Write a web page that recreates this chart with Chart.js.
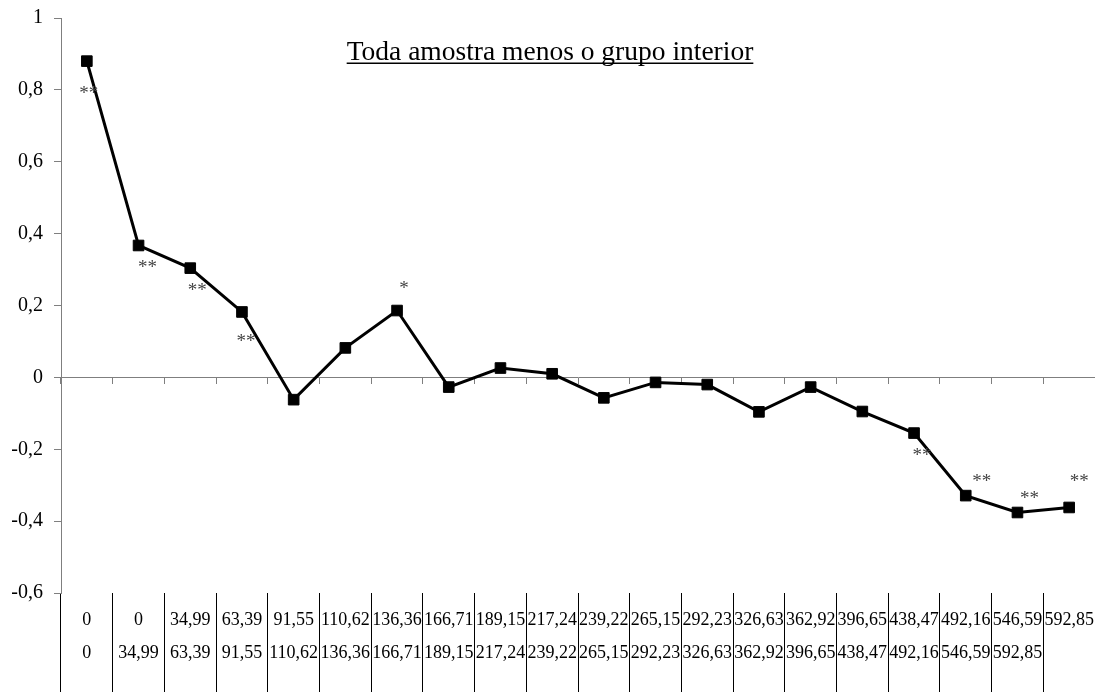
<!DOCTYPE html>
<html>
<head>
<meta charset="utf-8">
<script src="https://cdn.jsdelivr.net/npm/chart.js@4.4.1/dist/chart.umd.min.js"></script>
<style>
  html, body { margin: 0; padding: 0; background: #fff; }
  #wrap { width: 1095px; height: 692px; position: relative; }
</style>
</head>
<body>
<div id="wrap"><canvas id="chart"></canvas></div>
<script>
// Interval bounds shown under each point (two label rows)
const lowerBounds = ['0', '0', '34,99', '63,39', '91,55', '110,62', '136,36', '166,71', '189,15', '217,24',
                     '239,22', '265,15', '292,23', '326,63', '362,92', '396,65', '438,47', '492,16', '546,59', '592,85'];
const upperBounds = ['0', '34,99', '63,39', '91,55', '110,62', '136,36', '166,71', '189,15', '217,24', '239,22',
                     '265,15', '292,23', '326,63', '362,92', '396,65', '438,47', '492,16', '546,59', '592,85', ''];

// Coefficient per interval
const coefficients = [0.88, 0.367, 0.304, 0.182, -0.062, 0.082, 0.186, -0.027, 0.026, 0.010,
                      -0.057, -0.014, -0.020, -0.096, -0.027, -0.095, -0.155, -0.329, -0.376, -0.362];

// Significance markers per interval
const significance = ['**', '**', '**', '**', '', '', '*', '', '', '',
                      '', '', '', '', '', '', '**', '**', '**', '**'];

// Value axis range and step
const yMin = -0.6;
const yMax = 1;
const yStep = 0.2;

const chartTitle = 'Toda amostra menos o grupo interior';

const SERIF = "'Times New Roman', 'Liberation Serif', serif";
const AXIS_GRAY = '#7f7f7f';

const categoryLabels = lowerBounds.map((lo, i) => [lo, upperBounds[i]]);

// Where each significance marker sits relative to its point (dx, dy in px)
const markerPlacement = {
  0: [2, 28], 1: [9, 18], 2: [7, 18], 3: [4, 26], 6: [7, -26],
  16: [8, 18], 17: [16, -18], 18: [12, -18], 19: [10, -30]
};

const annotations = {
  id: 'annotations',
  afterDatasetsDraw(chart) {
    const ctx = chart.ctx;
    const meta = chart.getDatasetMeta(0);
    ctx.save();
    ctx.font = '19px ' + SERIF;
    ctx.fillStyle = '#444';
    ctx.textAlign = 'center';
    ctx.textBaseline = 'alphabetic';
    significance.forEach((txt, i) => {
      if (!txt) return;
      const pt = meta.data[i];
      const [dx, dy] = markerPlacement[i] || [0, 18];
      const m = ctx.measureText(txt);
      const cy = pt.y + dy;
      const base = cy + (m.actualBoundingBoxAscent - m.actualBoundingBoxDescent) / 2;
      ctx.fillText(txt, pt.x + dx, base);
    });
    ctx.restore();
  },
  afterDraw(chart) {
    const ctx = chart.ctx;
    ctx.save();
    ctx.font = '27.5px ' + SERIF;
    ctx.fillStyle = '#000';
    ctx.textAlign = 'center';
    ctx.textBaseline = 'alphabetic';
    const cx = 550, base = 60;
    ctx.fillText(chartTitle, cx, base);
    const w = ctx.measureText(chartTitle).width;
    ctx.fillRect(cx - w / 2, base + 2.5, w, 1.5);
    ctx.restore();
  }
};

function fmt(v) {
  const r = Math.round(v * 10) / 10;
  if (r === 0) return '0';
  return Number.isInteger(r) ? String(r) : r.toFixed(1).replace('.', ',');
}

new Chart(document.getElementById('chart'), {
  type: 'line',
  data: {
    labels: categoryLabels,
    datasets: [{
      data: coefficients,
      borderColor: '#000',
      borderWidth: 3,
      tension: 0,
      pointStyle: 'rect',
      pointRadius: 7.5,
      pointBackgroundColor: '#000',
      pointBorderColor: '#000',
      pointBorderWidth: 1,
      clip: false
    }]
  },
  options: {
    responsive: true,
    maintainAspectRatio: false,
    animation: false,
    layout: { autoPadding: false, padding: { top: 18, left: 0, right: 0, bottom: 0 } },
    plugins: {
      legend: { display: false },
      tooltip: { enabled: false },
      title: { display: false }
    },
    scales: {
      x: {
        type: 'category',
        position: 'bottom',
        offset: true,
        border: { display: false },
        grid: {
          offset: true,
          drawOnChartArea: false,
          drawTicks: true,
          tickLength: 100,
          color: '#000',
          lineWidth: 1
        },
        ticks: {
          autoSkip: false,
          maxRotation: 0,
          minRotation: 0,
          padding: -90,
          color: '#000',
          font: { family: SERIF, size: 18, lineHeight: 1.87 }
        },
        afterFit(scale) { scale.height = 99; }
      },
      x2: {
        type: 'category',
        position: { y: 0 },
        offset: true,
        border: { display: true, color: AXIS_GRAY, width: 1 },
        grid: {
          offset: true,
          drawOnChartArea: false,
          drawTicks: true,
          tickLength: 6,
          color: AXIS_GRAY,
          lineWidth: 1
        },
        ticks: { display: false },
        afterFit(scale) { scale.height = 0; }
      },
      y: {
        min: yMin,
        max: yMax,
        border: { display: true, color: AXIS_GRAY, width: 1 },
        grid: {
          drawOnChartArea: false,
          drawTicks: true,
          tickLength: 7,
          color: AXIS_GRAY
        },
        ticks: {
          stepSize: yStep,
          padding: 11,
          color: '#000',
          font: { family: SERIF, size: 20 },
          callback: (v) => fmt(v)
        },
        afterFit(scale) {
          scale.width = 61;
          scale.paddingTop = 0;
          scale.paddingBottom = 0;
        }
      }
    }
  },
  plugins: [annotations]
});
</script>
</body>
</html>
